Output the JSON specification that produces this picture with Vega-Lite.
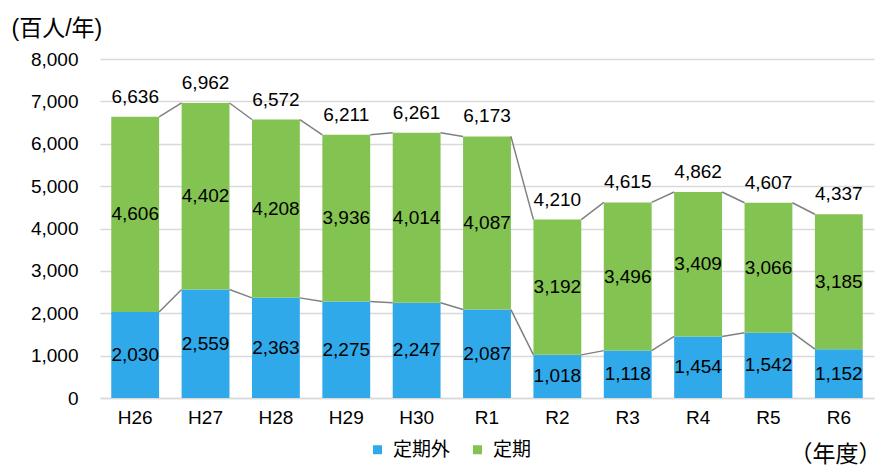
{
  "$schema": "https://vega.github.io/schema/vega-lite/v6.json",
  "width": 774,
  "height": 339,
  "autosize": {"type": "none"},
  "padding": {"left": 100, "top": 59, "right": 8, "bottom": 68},
  "config": {
    "font": "Liberation Sans, Noto Sans CJK JP",
    "view": {"stroke": null},
    "text": {"font": "Liberation Sans, Noto Sans CJK JP", "fontSize": 19, "color": "#000000"}
  },
  "data": {
    "values": [
      {"year": "H26", "i": 0, "定期外": 2030, "定期": 4606, "total": 6636},
      {"year": "H27", "i": 1, "定期外": 2559, "定期": 4402, "total": 6962},
      {"year": "H28", "i": 2, "定期外": 2363, "定期": 4208, "total": 6572},
      {"year": "H29", "i": 3, "定期外": 2275, "定期": 3936, "total": 6211},
      {"year": "H30", "i": 4, "定期外": 2247, "定期": 4014, "total": 6261},
      {"year": "R1", "i": 5, "定期外": 2087, "定期": 4087, "total": 6173},
      {"year": "R2", "i": 6, "定期外": 1018, "定期": 3192, "total": 4210},
      {"year": "R3", "i": 7, "定期外": 1118, "定期": 3496, "total": 4615},
      {"year": "R4", "i": 8, "定期外": 1454, "定期": 3409, "total": 4862},
      {"year": "R5", "i": 9, "定期外": 1542, "定期": 3066, "total": 4607},
      {"year": "R6", "i": 10, "定期外": 1152, "定期": 3185, "total": 4337}
    ]
  },
  "layer": [
    {
      "transform": [{"fold": ["定期外", "定期"], "as": ["type", "value"]}],
      "mark": {"type": "bar"},
      "encoding": {
        "x": {
          "field": "year", "type": "nominal",
          "scale": {"domain": ["H26","H27","H28","H29","H30","R1","R2","R3","R4","R5","R6"], "paddingInner": 0.32, "paddingOuter": 0.16},
          "axis": {
            "domainColor": "#d9d9d9", "domainWidth": 1.3, "ticks": false,
            "labelFontSize": 19, "labelColor": "#000000", "labelPadding": 10, "labelAngle": 0,
            "title": "（年度）", "titleFontSize": 23, "titleFontWeight": "normal", "titleColor": "#000000",
            "titleX": 781, "titleY": 56, "titleAlign": "right", "titleBaseline": "middle", "titleAnchor": null
          }
        },
        "y": {
          "field": "value", "type": "quantitative", "stack": "zero",
          "scale": {"domain": [0, 8000], "nice": false},
          "axis": {
            "values": [0,1000,2000,3000,4000,5000,6000,7000,8000], "format": ",d",
            "domain": false, "ticks": false, "gridColor": "#d9d9d9", "gridWidth": 1.3,
            "labelFontSize": 19, "labelColor": "#000000", "labelPadding": 22,
            "title": "(百人/年)", "titleFontSize": 23, "titleFontWeight": "normal", "titleColor": "#000000",
            "titleAngle": 0, "titleX": -89, "titleY": -31, "titleAlign": "left", "titleBaseline": "middle", "titleAnchor": null
          }
        },
        "color": {
          "field": "type", "type": "nominal",
          "scale": {"domain": ["定期外", "定期"], "range": ["#2fa9e9", "#83c351"]},
          "legend": {
            "title": null, "orient": "none", "direction": "horizontal",
            "legendX": 268, "legendY": 381,
            "symbolType": "square", "symbolSize": 81, "symbolStrokeWidth": 0,
            "labelFontSize": 19, "labelColor": "#000000", "labelOffset": 6, "columnPadding": 17
          }
        },
        "order": {"field": "type", "sort": "descending"}
      }
    },
    {
      "transform": [
        {"window": [
          {"op": "lead", "field": "year", "as": "nyear"},
          {"op": "lead", "field": "定期外", "as": "ngai"},
          {"op": "lead", "field": "total", "as": "ntotal"}
        ], "sort": [{"field": "i", "order": "ascending"}]},
        {"filter": "datum.nyear != null"}
      ],
      "layer": [
        {
          "mark": {"type": "rule", "color": "#808080", "strokeWidth": 1.5},
          "encoding": {
            "x": {"field": "year", "type": "nominal", "bandPosition": 1},
            "x2": {"field": "nyear", "bandPosition": 0},
            "y": {"field": "定期外", "type": "quantitative", "title": "(百人/年)"},
            "y2": {"field": "ngai"}
          }
        },
        {
          "mark": {"type": "rule", "color": "#808080", "strokeWidth": 1.5},
          "encoding": {
            "x": {"field": "year", "type": "nominal", "bandPosition": 1},
            "x2": {"field": "nyear", "bandPosition": 0},
            "y": {"field": "total", "type": "quantitative", "title": "(百人/年)"},
            "y2": {"field": "ntotal"}
          }
        }
      ]
    },
    {
      "transform": [
        {"fold": ["定期外", "定期"], "as": ["type", "value"]},
        {"stack": "value", "groupby": ["year"], "sort": [{"field": "type", "order": "descending"}], "as": ["v0", "v1"]},
        {"calculate": "(datum.v0 + datum.v1) / 2", "as": "mid"}
      ],
      "mark": {"type": "text", "baseline": "middle", "align": "center"},
      "encoding": {
        "x": {"field": "year", "type": "nominal"},
        "y": {"field": "mid", "type": "quantitative", "title": "(百人/年)"},
        "text": {"field": "value", "type": "quantitative", "format": ",d"}
      }
    },
    {
      "mark": {"type": "text", "baseline": "middle", "align": "center", "dy": -20},
      "encoding": {
        "x": {"field": "year", "type": "nominal"},
        "y": {"field": "total", "type": "quantitative", "title": "(百人/年)"},
        "text": {"field": "total", "type": "quantitative", "format": ",d"}
      }
    }
  ]
}
